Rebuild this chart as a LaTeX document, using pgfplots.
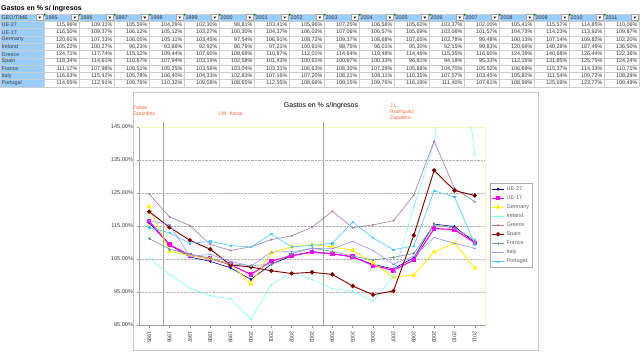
\documentclass[border=0pt]{standalone}
\usepackage{pgfplots}
\pgfplotsset{compat=1.18}
\usepackage{pgfplotstable}
\usepackage{fontspec}
\setmainfont{Liberation Sans}
\newcommand\fs[1]{\fontsize{#1}{#1}\selectfont}
\definecolor{hdrblue}{RGB}{153,204,255}
\definecolor{cellgrid}{RGB}{205,205,205}
\definecolor{annot}{RGB}{240,105,65}
\definecolor{cUEa}{RGB}{0,0,128}
\definecolor{cUEb}{RGB}{255,0,255}
\definecolor{cDE}{RGB}{255,240,0}
\definecolor{cIE}{RGB}{130,250,250}
\definecolor{cGR}{RGB}{165,120,165}
\definecolor{cES}{RGB}{128,0,0}
\definecolor{cFR}{RGB}{120,155,155}
\definecolor{cIT}{RGB}{150,150,255}
\definecolor{cPT}{RGB}{70,205,255}
\definecolor{paleyellow}{RGB}{248,248,190}

\pgfplotstableread{
year UE27 UE17 Germany Ireland Greece Spain France Italy Portugal
1995 115.96 116.50 120.91 105.22 124.71 119.34 111.17 116.63 114.65
1996 109.31 109.37 107.33 100.27 117.74 114.61 107.98 115.42 112.91
1997 105.59 106.12 106.05 96.23 115.12 110.67 106.51 105.78 109.76
1998 104.29 105.12 105.11 93.86 109.44 107.94 105.25 106.40 110.32
1999 102.30 103.27 103.45 92.92 107.60 103.19 103.56 104.33 109.08
2000 98.81 100.30 97.54 86.79 108.69 102.58 103.04 102.83 108.65
2001 103.41 104.37 106.91 97.21 110.87 101.43 103.31 107.16 112.55
2002 105.96 106.02 108.72 100.91 112.01 100.61 106.63 107.20 108.66
2003 107.25 107.06 109.37 98.75 114.64 100.97 108.30 108.21 109.15
2004 106.58 106.57 108.68 96.01 119.48 100.33 107.29 108.11 109.76
2005 105.62 105.69 107.65 95.30 114.46 96.81 105.88 110.35 116.19
2006 103.37 103.06 103.78 92.15 115.35 94.18 104.70 107.57 111.40
2007 102.00 101.57 99.48 99.83 116.60 95.33 105.52 103.45 107.81
2008 105.41 104.73 100.13 120.69 124.39 112.15 106.69 105.82 108.99
2009 115.57 114.23 107.14 140.28 140.68 131.85 115.37 111.54 125.69
2010 114.85 113.92 109.82 187.49 126.44 125.75 114.33 109.72 123.77
2011 110.06 109.87 102.20 136.50 122.36 124.24 110.71 108.29 109.49
}\datatable

\begin{document}
\begin{tikzpicture}[x=1bp,y=1bp]
\useasboundingbox (0,0) rectangle (640,353);
% ---------- table ----------
\node[anchor=west,inner sep=0pt,font=\fs{7}\bfseries] at (1,344.5) {Gastos en \% s/ Ingresos};
\fill[hdrblue] (0,331.7) rectangle (639,339);
\fill[hdrblue] (0,266) rectangle (44,331.7);
\foreach \r in {0,...,10}{
  \draw[cellgrid,line width=0.5bp] (0,{339-7.3*\r}) -- (639,{339-7.3*\r});
}
\foreach \j in {0,...,17}{
  \draw[cellgrid,line width=0.5bp] ({44+35*\j},266) -- ({44+35*\j},339);
}
\draw[cellgrid,line width=0.5bp] (0,266) -- (0,339);
% header
\node[anchor=west,inner sep=0pt,font=\fs{5.4},text=black!80] at (1.5,335.35) {GEO/TIME};
\foreach \j in {0,...,17}{
  \pgfmathsetmacro\xr{44+35*\j}
  \fill[white] (\xr-7.5,332.4) rectangle (\xr-1,338.3);
  \draw[gray!70,line width=0.4bp] (\xr-7.5,332.4) rectangle (\xr-1,338.3);
  \fill[black] (\xr-5.6,336.4) -- (\xr-2.9,336.4) -- (\xr-4.25,334.3) -- cycle;
}
\foreach \j in {0,...,16}{
  \pgfmathtruncatemacro\yr{1995+\j}
  \fill[green!55!black] ({44+35*\j},339) -- ++(2.2,0) -- ++(-2.2,-2.2) -- cycle;
  \node[anchor=west,inner sep=0pt,font=\fs{5.4},text=black!80] at ({45.5+35*\j},335.35) {\yr};
}
% body
\foreach \cname/\lab [count=\k] in {UE27/UE-27,UE17/UE-17,Germany/Germany,Ireland/Ireland,Greece/Greece,Spain/Spain,France/France,Italy/Italy,Portugal/Portugal}{
  \node[anchor=west,inner sep=0pt,font=\fs{5.4},text=black!75] at (1.5,{335.35-7.3*\k}) {\lab};
  \foreach \j in {0,...,16}{
    \pgfplotstablegetelem{\j}{\cname}\of\datatable
    \node[anchor=east,inner sep=0pt,font=\fs{5.4},text=black!80] at ({77.5+35*\j},{335.35-7.3*\k})
      {\pgfmathprintnumber[fixed,fixed zerofill,precision=2,use comma,assume math mode=true]{\pgfplotsretval}\%};
  }
}
% ---------- chart ----------
\draw[gray!45,line width=1bp] (133,3) rectangle (538,261);
\node[font=\fs{7},text=black] at (321,247) {Gastos en \% s/Ingresos};
\node[anchor=north west,align=left,inner sep=0pt,font=\fs{5.2},text=annot] at (133,247) {Felipe\\[0.6bp]González};
\node[anchor=west,inner sep=0pt,font=\fs{5.2},text=annot] at (218,239) {J.M. Aznar};
\node[anchor=north west,align=left,inner sep=0pt,font=\fs{5.2},text=annot] at (390,249.5) {J.L.\\[0.8bp]Rodríguez\\[0.8bp]Zapatero};
\begin{axis}[
  at={(139bp,28bp)}, anchor=south west,
  width=346bp, height=198bp, scale only axis,
  xmin=1994.5, xmax=2011.5, ymin=85, ymax=145,
  axis x line=bottom, axis y line=left,
  axis line style={-, draw=gray!75, line width=0.6bp},
  xtick={1995,...,2011},
  xticklabels={1995,1996,1997,1998,1999,2000,2001,2002,2003,2004,2005,2006,2007,2008,2009,2010,2011},
  x tick label style={rotate=-90, anchor=west, font=\fs{5.4}, text=black!75},
  ytick={85,95,...,145},
  yticklabel={\pgfmathprintnumber[fixed,fixed zerofill,precision=2,use comma,assume math mode=true]{\tick}\%},
  y tick label style={font=\fs{5.6}, text=black!75},
  tick align=outside, major tick length=2.5bp,
  tick style={gray!75, line width=0.5bp},
  ymajorgrids, grid style={densely dotted, gray!60, line width=0.5bp},
  clip mode=individual,
  legend style={at={(1.0145,0.717)}, anchor=north west, draw=gray!65, line width=0.8bp,
    font=\fs{5.5}, text=black!60, inner sep=1.2bp, row sep=-0.3bp,
    cells={anchor=west, line width=0.5bp}},
  legend image code/.code={\draw[mark repeat=2,mark phase=2] plot coordinates {(0bp,0bp) (6bp,0bp) (12bp,0bp)};},
]
\draw[paleyellow,line width=0.7bp] (rel axis cs:0,1) -- (rel axis cs:1,1) -- (rel axis cs:1,0);
\draw[gray!70,line width=0.6bp] (axis cs:1995.68,85) -- (axis cs:1995.68,146.5);
\draw[gray!70,line width=0.6bp] (axis cs:2003.56,85) -- (axis cs:2003.56,146.5);
\addplot[cUEa, line width=0.6bp, mark=diamond*, mark size=1.1bp] table[x=year,y=UE27]{\datatable};
\addlegendentry{UE-27}
\addplot[cUEb, line width=1.1bp, mark=square*, mark size=1.7bp] table[x=year,y=UE17]{\datatable};
\addlegendentry{UE-17}
\addplot[cDE, line width=0.8bp, mark=triangle*, mark size=2bp] table[x=year,y=Germany]{\datatable};
\addlegendentry{Germany}
\addplot[cIE, line width=0.6bp, mark=x, mark size=0.9bp] table[x=year,y=Ireland]{\datatable};
\addlegendentry{Ireland}
\addplot[cGR, line width=0.6bp, mark=*, mark size=0.7bp] table[x=year,y=Greece]{\datatable};
\addlegendentry{Greece}
\addplot[cES, line width=0.9bp, mark=*, mark size=1.7bp] table[x=year,y=Spain]{\datatable};
\addlegendentry{Spain}
\addplot[cFR, line width=0.6bp, mark=+, mark size=1.4bp] table[x=year,y=France]{\datatable};
\addlegendentry{France}
\addplot[cIT, line width=0.6bp, mark=-, mark size=1.4bp] table[x=year,y=Italy]{\datatable};
\addlegendentry{Italy}
\addplot[cPT, line width=0.6bp, mark=square*, mark size=0.7bp] table[x=year,y=Portugal]{\datatable};
\addlegendentry{Portugal}
\end{axis}
\end{tikzpicture}
\end{document}
